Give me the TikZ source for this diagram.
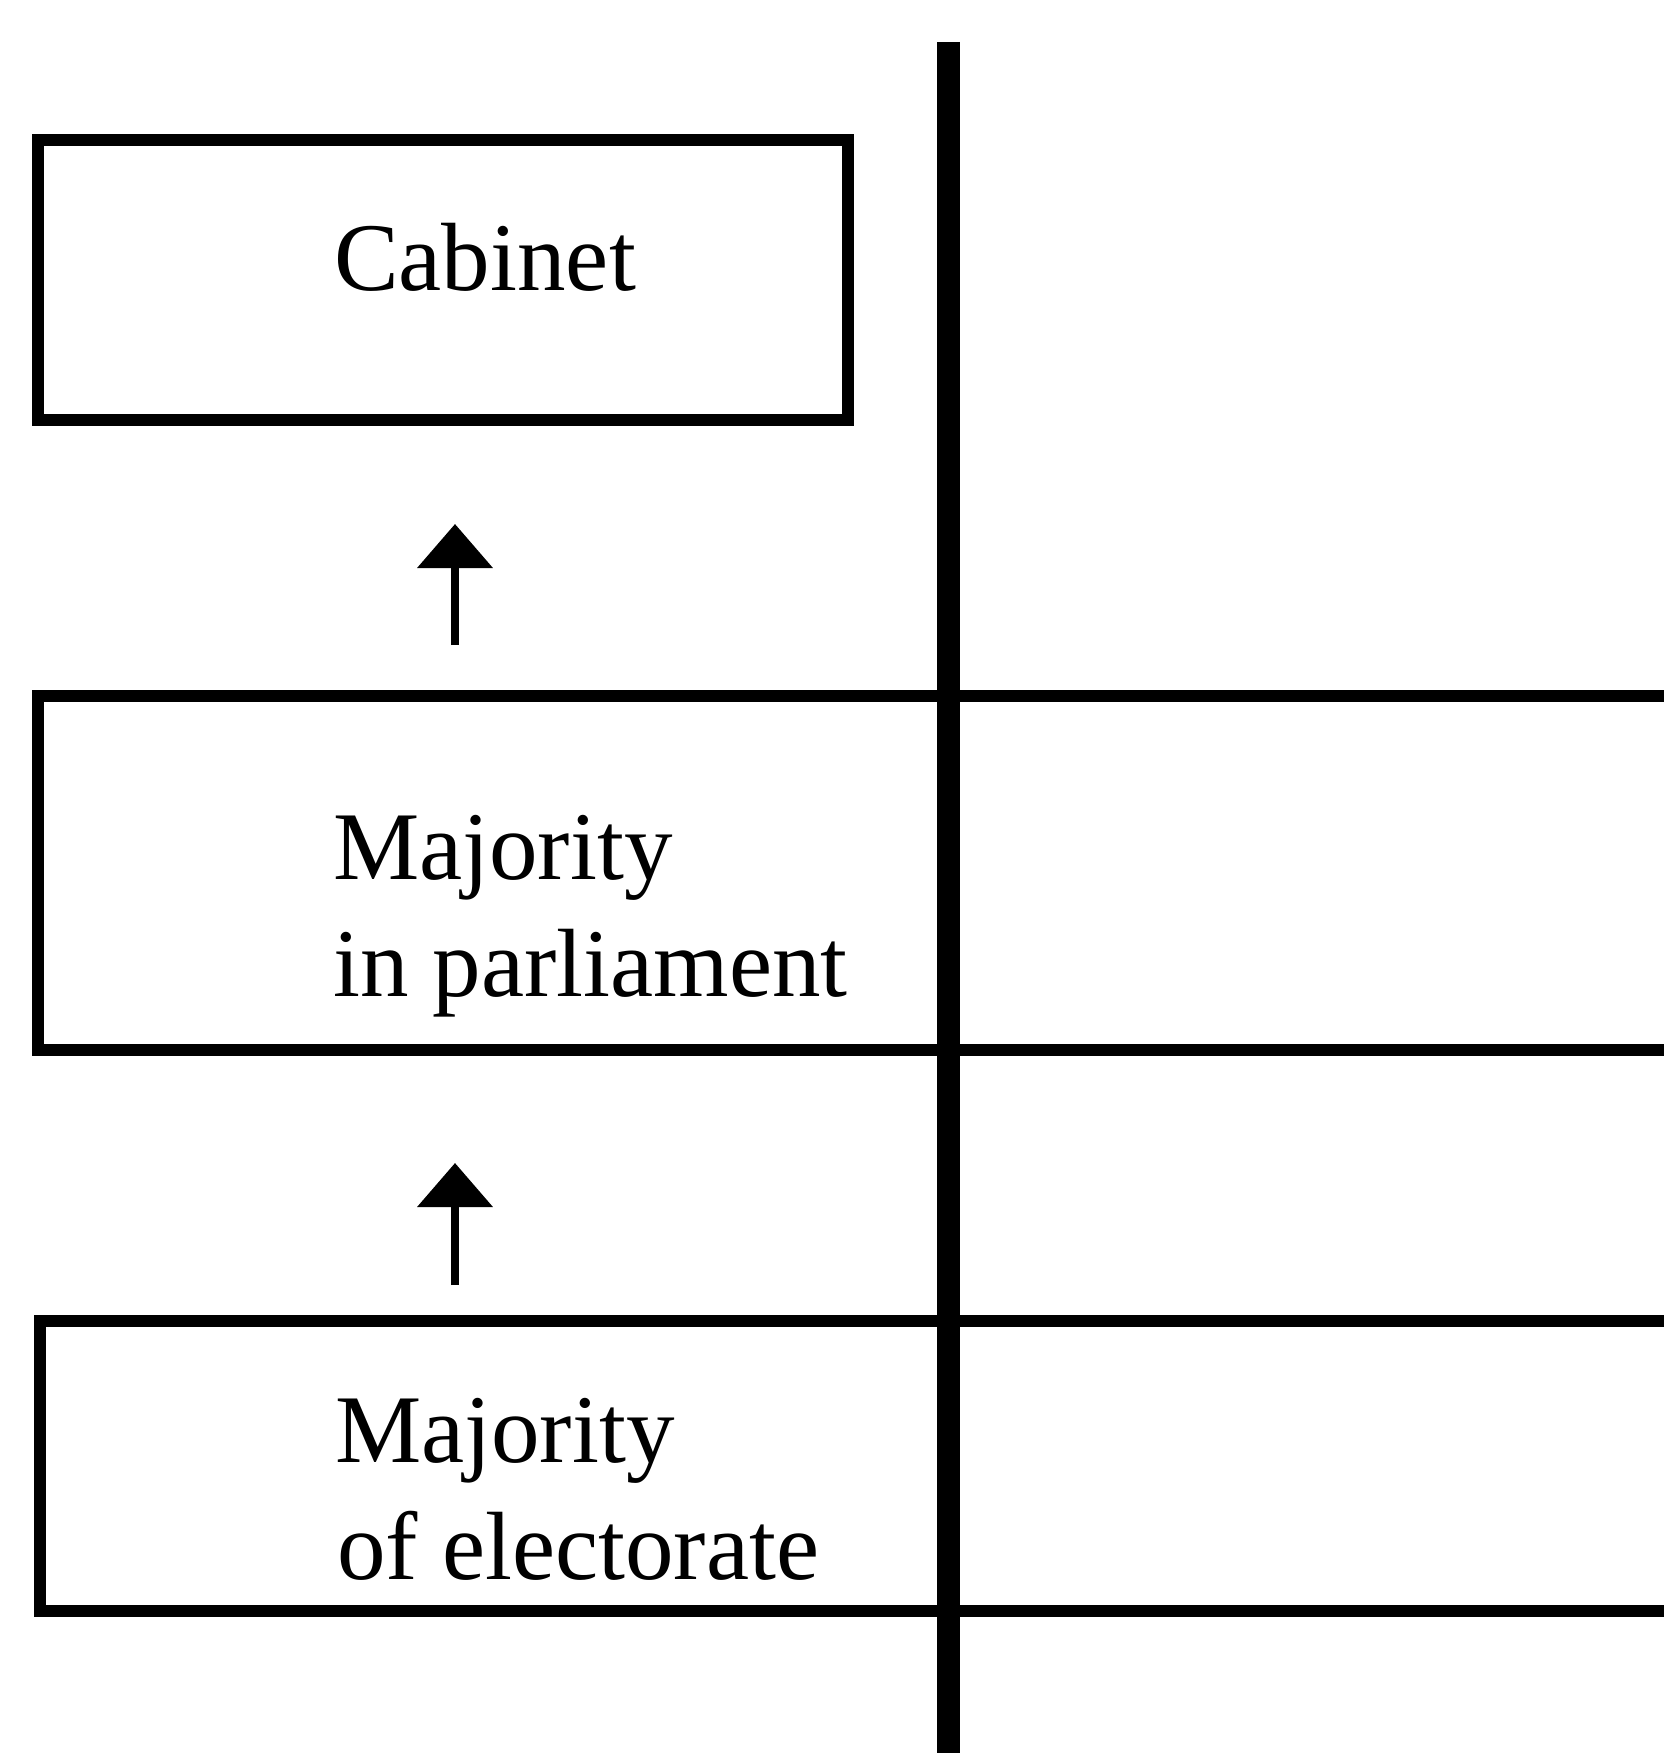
\documentclass[tikz,border=0pt]{standalone}
\usepackage{fontspec}
\setmainfont{Liberation Serif}
\usetikzlibrary{arrows.meta}
\begin{document}
\begin{tikzpicture}[x=1pt,y=-1pt,
  frame/.style={line width=12pt},
  divider/.style={line width=23pt},
  label/.style={anchor=base west, inner sep=0pt, font=\fontsize{97}{117}\selectfont},
  uparrow/.style={line width=8pt, -{Triangle[length=44pt 0 0,width=74pt 0 0]}}]
\useasboundingbox (0,0) rectangle (1664,1753);
% divider
\coordinate (dtop) at (948.5,42);
\coordinate (dbot) at (948.5,1770);
\draw[divider] (dtop) -- (dbot);
% cabinet box
\node[draw, frame, minimum width=810pt, minimum height=280pt, inner sep=0pt] (cab) at (442.5,279.5) {};
\node[label] (cabtxt) at (334,290) {Cabinet};
% middle band
\coordinate (mtr) at (1680,696);
\coordinate (mtl) at (37.5,696);
\coordinate (mbl) at (37.5,1050);
\coordinate (mbr) at (1680,1050);
\draw[frame] (mtr) -- (mtl) -- (mbl) -- (mbr);
\node[label] (mp1) at (333,879) {Majority};
\node[label] (mp2) at (333,996) {in parliament};
% bottom band
\coordinate (btr) at (1680,1321);
\coordinate (btl) at (39.5,1321);
\coordinate (bbl) at (39.5,1611);
\coordinate (bbr) at (1680,1611);
\draw[frame] (btr) -- (btl) -- (bbl) -- (bbr);
\node[label] (me1) at (335,1462) {Majority};
\node[label] (me2) at (337,1579) {of electorate};
% arrows
\coordinate (a1s) at (455,645);
\coordinate (a1e) at (455,524);
\draw[uparrow] (a1s) -- (a1e);
\coordinate (a2s) at (455,1285);
\coordinate (a2e) at (455,1163);
\draw[uparrow] (a2s) -- (a2e);
\end{tikzpicture}
\end{document}
